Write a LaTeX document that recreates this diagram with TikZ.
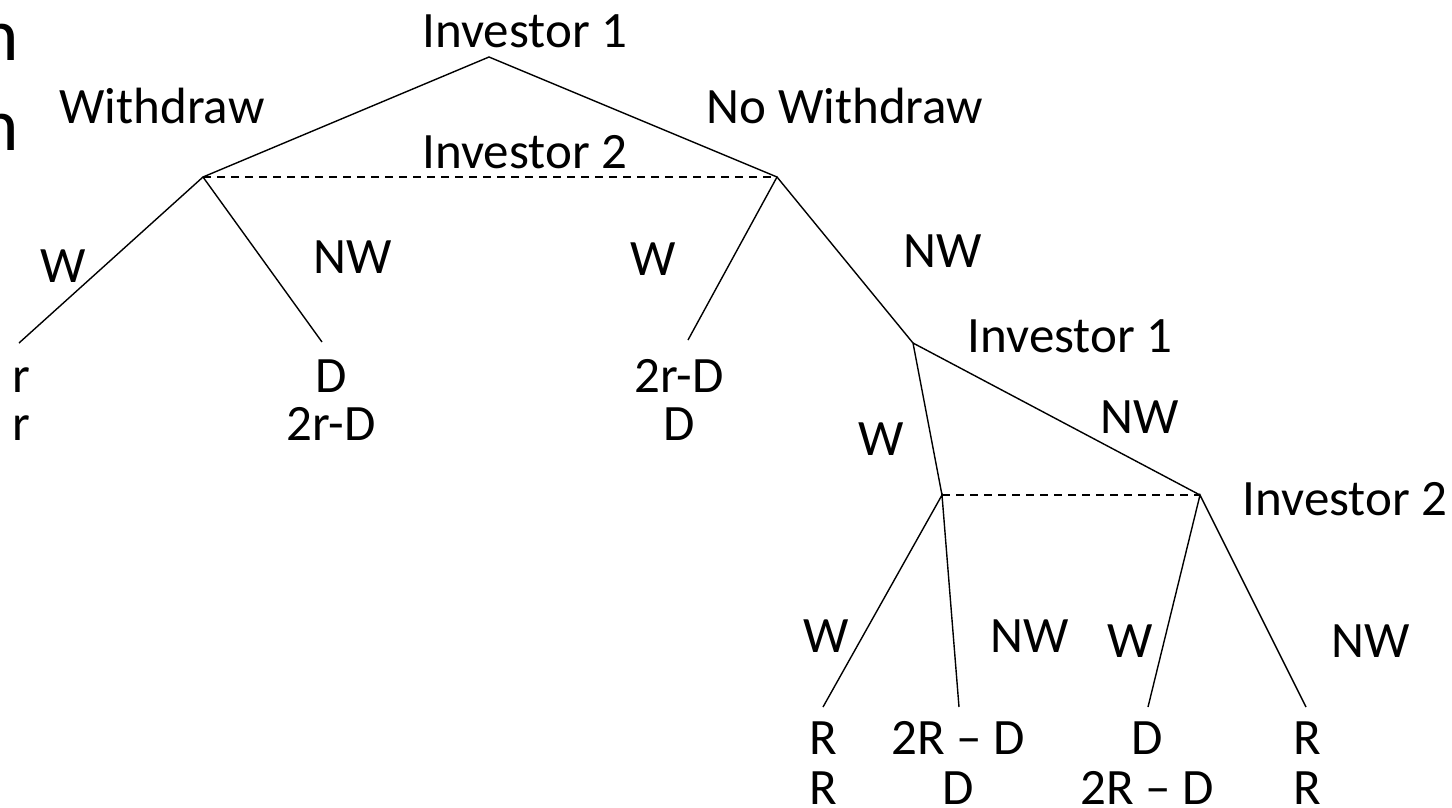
\documentclass[tikz,border=0pt]{standalone}
\usepackage{fontspec}
\setmainfont{Carlito}
\usepackage{tikz}

\begin{document}
\begin{tikzpicture}[x=1pt,y=-1pt, every node/.style={font=\fontsize{51}{60}\selectfont, inner sep=0pt, anchor=base},
  branch/.style={draw=black, line width=1.4pt},
  infoset/.style={draw=black, line width=1.4pt, dash pattern=on 8pt off 6pt}]
  \useasboundingbox (0,0) rectangle (1452,807);
  % title fragments cut off at the left edge
  \node[font=\fontsize{75}{80}\selectfont, anchor=base east] (cutA) at (19,60) {n};
  \node[font=\fontsize{75}{80}\selectfont, anchor=base east] (cutB) at (19,150) {n};
  % decision points and ends
  \coordinate (root) at (489,57);
  \coordinate (twoL) at (203,177);
  \coordinate (twoR) at (777,177);
  \coordinate (oneB) at (913,343);
  \coordinate (fourL) at (942,495);
  \coordinate (fourR) at (1200,495);
  \coordinate (endA) at (19,343);
  \coordinate (endB) at (322,342);
  \coordinate (endC) at (688,340);
  \coordinate (endD) at (823,707);
  \coordinate (endE) at (959,707);
  \coordinate (endF) at (1148,707);
  \coordinate (endG) at (1306,707);
  \draw[branch] (twoL) -- (root) -- (twoR);
  \draw[branch] (endA) -- (twoL) -- (endB);
  \draw[branch] (endC) -- (twoR) -- (oneB);
  \draw[branch] (fourL) -- (oneB) -- (fourR);
  \draw[branch] (endD) -- (fourL) -- (endE);
  \draw[branch] (endF) -- (fourR) -- (endG);
  \draw[infoset] (twoL) -- (twoR);
  \draw[infoset] (fourL) -- (fourR);
  % players
  \node (invA) at (525,47) {Investor 1};
  \node (invB) at (525,168) {Investor 2};
  \node (invC) at (1070,352) {Investor 1};
  \node (invD) at (1345,515) {Investor 2};
  % actions
  \node (actA) at (162,123) {Withdraw};
  \node (actB) at (845,123) {No Withdraw};
  \node (actC) at (63,282) {W};
  \node (actD) at (353,273) {NW};
  \node (actE) at (653,275) {W};
  \node (actF) at (943,267) {NW};
  \node (actG) at (881,455) {W};
  \node (actH) at (1140,433) {NW};
  \node (actI) at (826,652) {W};
  \node (actJ) at (1030,652) {NW};
  \node (actK) at (1130,657) {W};
  \node (actL) at (1371,657) {NW};
  % payoffs
  \node[anchor=base west] (payA) at (12,392) {r};
  \node[anchor=base west] (payB) at (12,440) {r};
  \node (payC) at (331,392) {D};
  \node (payD) at (331,440) {2r-D};
  \node (payE) at (679,392) {2r-D};
  \node (payF) at (679,440) {D};
  \node (payG) at (823,754) {R};
  \node (payH) at (823,804) {R};
  \node (payI) at (958,754) {2R – D};
  \node (payJ) at (958,804) {D};
  \node (payK) at (1147,754) {D};
  \node (payL) at (1147,804) {2R – D};
  \node (payM) at (1307,754) {R};
  \node (payN) at (1307,804) {R};
\end{tikzpicture}
\end{document}
